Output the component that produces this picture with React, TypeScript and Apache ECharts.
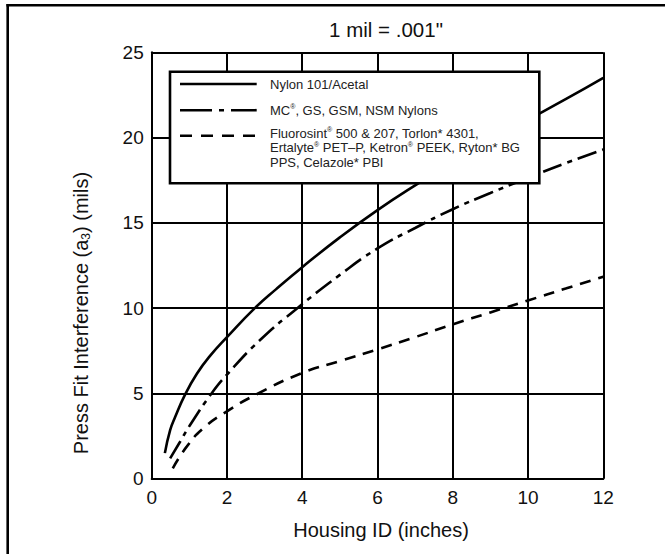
import React, { useEffect, useRef } from "react";
import * as echarts from "echarts";

const nylonX = [0.35, 0.49, 0.62, 0.88, 1.2, 1.55, 2, 2.74, 3.3, 4, 5, 6, 7, 8, 9, 10, 11, 12];
const nylonY = [1.5, 2.85, 3.6, 4.9, 6.15, 7.2, 8.3, 10.0, 11.1, 12.4, 14.15, 15.75, 17.2, 18.55, 19.85, 21.05, 22.25, 23.5];

const mcX = [0.49, 0.75, 1.02, 1.59, 2, 2.88, 3.87, 5, 6, 7, 8, 9, 10, 11, 12];
const mcY = [1.19, 2.15, 3.15, 5.0, 6.1, 8.13, 10.0, 11.95, 13.5, 14.7, 15.8, 16.75, 17.64, 18.5, 19.3];

const fluoroX = [0.56, 0.93, 1.37, 2, 2.79, 4, 5, 6, 7, 8, 9, 10, 11, 12];
const fluoroY = [0.61, 1.88, 2.95, 3.95, 4.95, 6.2, 6.9, 7.58, 8.3, 9.05, 9.75, 10.45, 11.15, 11.84];

const seriesNames = [
  "Nylon 101/Acetal",
  "MC®, GS, GSM, NSM Nylons",
  "Fluorosint® 500 & 207, Torlon* 4301, Ertalyte® PET–P, Ketron® PEEK, Ryton* BG PPS, Celazole* PBI",
];
const legendLines = [
  ["Nylon 101/Acetal"],
  ["MC®, GS, GSM, NSM Nylons"],
  ["Fluorosint® 500 & 207, Torlon* 4301,", "Ertalyte® PET–P, Ketron® PEEK, Ryton* BG", "PPS, Celazole* PBI"],
];
const titleText = '1 mil = .001"';
const xAxisName = "Housing ID (inches)";
const yAxisNameParts = ["Press Fit Interference (a", "3", ") (mils)"];

const FONT = "'Liberation Sans', Arial, Helvetica, sans-serif";
const INK = "#111";

const toRich = (s: string) => s.replace(/®/g, "{sup|®}");
const pairs = (xs: number[], ys: number[]) => xs.map((x, i) => [x, ys[i]]);

export default function App() {
  const ref = useRef<HTMLDivElement>(null);
  useEffect(() => {
    if (!ref.current) return;
    const chart = echarts.init(ref.current, undefined, { renderer: "svg" });

    const dashes: (number[] | "solid")[] = ["solid", [20, 6, 5, 6], [11, 8]];
    const legendDashes: (number[] | "solid")[] = ["solid", [32, 7, 5, 7], [12, 9]];
    const legendRowY = [84, 110.2, 135.8];
    const legendTextY = [84, 110.2, 133];
    const legendLineGap = 14.6;

    const legendGraphics: any[] = [
      {
        type: "rect",
        z: 100,
        shape: { x: 170, y: 71.7, width: 369.3, height: 111.6 },
        style: { fill: "#fff", stroke: "#000", lineWidth: 2.6 },
      },
    ];
    legendLines.forEach((lines, i) => {
      legendGraphics.push({
        type: "line",
        z: 101,
        shape: { x1: 180, y1: legendRowY[i], x2: 256.7, y2: legendRowY[i] },
        style: { stroke: "#000", lineWidth: 2.6, lineDash: legendDashes[i] === "solid" ? null : legendDashes[i] },
      });
      lines.forEach((t, j) => {
        legendGraphics.push({
          type: "text",
          z: 101,
          x: 270,
          y: legendTextY[i] + j * legendLineGap,
          style: {
            text: toRich(t),
            fill: "#222",
            fontSize: 13,
            fontFamily: FONT,
            align: "left",
            verticalAlign: "middle",
            lineHeight: 14,
            rich: {
              sup: { fontSize: 7, fontFamily: FONT, fill: "#222", verticalAlign: "top", lineHeight: 8 },
            },
          },
        });
      });
    });

    const option: any = {
      animation: false,
      backgroundColor: "#fff",
      grid: { left: 151.7, top: 52.3, width: 451.6, height: 426.4, containLabel: false },
      xAxis: {
        type: "value",
        min: 0,
        max: 12,
        interval: 2,
        axisLine: { show: true, lineStyle: { color: "#000", width: 2 } },
        axisTick: { show: false },
        splitLine: { show: true, lineStyle: { color: "#000", width: 2 } },
        axisLabel: { color: INK, fontSize: 19, fontFamily: FONT, margin: 9 },
      },
      yAxis: {
        type: "value",
        min: 0,
        max: 25,
        interval: 5,
        axisLine: { show: true, lineStyle: { color: "#000", width: 2 } },
        axisTick: { show: false },
        splitLine: { show: true, lineStyle: { color: "#000", width: 2 } },
        axisLabel: { color: INK, fontSize: 19, fontFamily: FONT, margin: 8 },
      },
      series: [
        { x: nylonX, y: nylonY },
        { x: mcX, y: mcY },
        { x: fluoroX, y: fluoroY },
      ].map((s, i) => ({
        type: "line",
        name: seriesNames[i],
        data: pairs(s.x, s.y),
        smooth: 0.5,
        showSymbol: false,
        symbol: "none",
        z: 5,
        lineStyle: { color: "#000", width: 2.6, type: dashes[i] },
      })),
      graphic: [
        {
          type: "line",
          z: 200,
          shape: { x1: 7.7, y1: 4, x2: 7.7, y2: 554 },
          style: { stroke: "#000", lineWidth: 2.6 },
        },
        {
          type: "line",
          z: 200,
          shape: { x1: 6.4, y1: 5.3, x2: 665, y2: 5.3 },
          style: { stroke: "#000", lineWidth: 2.6 },
        },
        {
          type: "text",
          x: 386,
          y: 29,
          style: {
            text: titleText,
            fill: INK,
            fontSize: 20.5,
            fontFamily: FONT,
            align: "center",
            verticalAlign: "middle",
          },
        },
        {
          type: "text",
          x: 381,
          y: 530,
          style: {
            text: xAxisName,
            fill: INK,
            fontSize: 20,
            fontFamily: FONT,
            align: "center",
            verticalAlign: "middle",
          },
        },
        {
          type: "text",
          x: 80.6,
          y: 313,
          rotation: Math.PI / 2,
          style: {
            text: `${yAxisNameParts[0]}{sub|${yAxisNameParts[1]}}${yAxisNameParts[2]}`,
            fill: INK,
            fontSize: 20,
            fontFamily: FONT,
            align: "center",
            verticalAlign: "middle",
            lineHeight: 22,
            rich: {
              sub: { fontSize: 12, fontFamily: FONT, fill: INK, verticalAlign: "bottom", lineHeight: 12 },
            },
          },
        },
        ...legendGraphics,
      ],
    };
    chart.setOption(option);
    return () => chart.dispose();
  }, []);

  return (
    <div
      ref={ref}
      style={{ position: "fixed", left: 0, top: 0, width: 665, height: 554, background: "#fff" }}
    />
  );
}
